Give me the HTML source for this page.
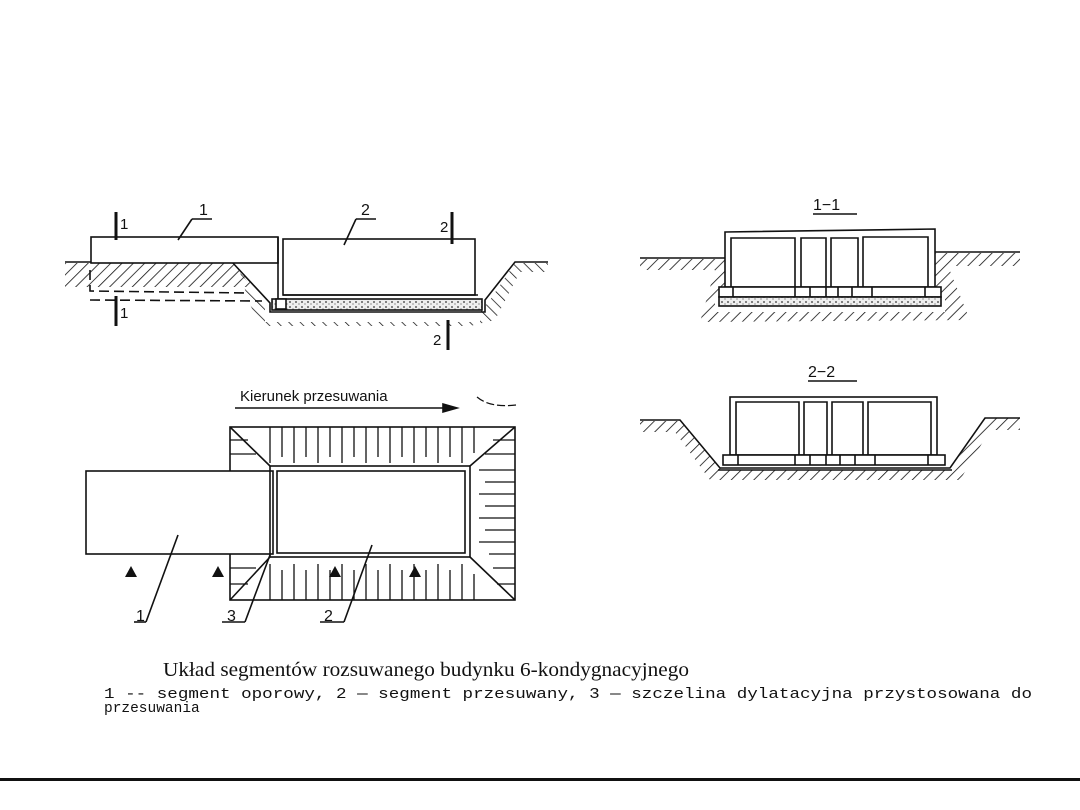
<!DOCTYPE html>
<html><head><meta charset="utf-8"><style>
html,body{margin:0;padding:0;background:#fff;}
svg{display:block}
text{font-family:"Liberation Sans",sans-serif;fill:#111}
.s{font-family:"Liberation Serif",serif}
.m{font-family:"Liberation Mono",monospace}
</style></head><body>
<svg width="1080" height="810" viewBox="0 0 1080 810" xmlns="http://www.w3.org/2000/svg">
<defs>
<pattern id="h" width="8" height="8" patternUnits="userSpaceOnUse" patternTransform="rotate(45)">
<line x1="0" y1="0" x2="0" y2="8" stroke="#111" stroke-width="1.6"/>
</pattern>
<pattern id="h2" width="8" height="8" patternUnits="userSpaceOnUse" patternTransform="rotate(-45)">
<line x1="0" y1="0" x2="0" y2="8" stroke="#111" stroke-width="1.5"/>
</pattern>
<pattern id="g" width="6" height="5" patternUnits="userSpaceOnUse">
<rect width="6" height="5" fill="#eee"/><circle cx="2" cy="2" r="0.9" fill="#333"/><circle cx="5" cy="4" r="0.6" fill="#555"/>
</pattern>
</defs>
<g fill="none" stroke="#111" stroke-width="1.6">
<polygon points="65,263 232,263 254,287 65,287" fill="url(#h)" stroke="none"/>
<polygon points="240,272 265,305 265,322 480,322 480,312 490,300 515,263 548,263 548,272 520,272 495,320 470,326 260,326 248,300" fill="url(#h2)" stroke="none"/>
<polyline points="65,262 232,262 270,303 270,312 485,312 485,300 515,262 548,262"/>
<rect x="91" y="237" width="187" height="26" fill="#fff"/>
<line x1="278" y1="237" x2="278" y2="302"/>
<rect x="283" y="239" width="192" height="56" fill="#fff"/>
<rect x="272" y="299" width="210" height="11" fill="url(#g)"/>
<rect x="276" y="299" width="10" height="10" fill="#fff"/>
<line x1="283" y1="295" x2="478" y2="295"/>
<path d="M90,270 L90,291 L248,293 M90,300 L262,301" stroke-dasharray="10,5"/>
<g stroke-width="3"><line x1="116" y1="212" x2="116" y2="240"/><line x1="116" y1="296" x2="116" y2="326"/><line x1="452" y1="212" x2="452" y2="244"/><line x1="448" y1="320" x2="448" y2="350"/></g>
<line x1="192" y1="219" x2="212" y2="219"/><line x1="192" y1="219" x2="178" y2="240"/>
<line x1="356" y1="219" x2="376" y2="219"/><line x1="356" y1="219" x2="344" y2="245"/>
<line x1="235" y1="408" x2="445" y2="408"/><polygon points="443,404 457,408 443,412" fill="#111"/>
<path d="M477,397 Q490,408 516,405" stroke-dasharray="8,3" stroke-width="1.2"/>
<rect x="230" y="427" width="285" height="173"/>
<rect x="86" y="471" width="187" height="83" fill="#fff"/>
<rect x="270" y="466" width="200" height="91"/>
<rect x="277" y="471" width="188" height="82" fill="#fff"/>
<line x1="230" y1="427" x2="270" y2="466"/><line x1="515" y1="427" x2="470" y2="466"/>
<line x1="230" y1="600" x2="270" y2="557"/><line x1="515" y1="600" x2="470" y2="557"/>
<g stroke-width="1.3">
<path d="M270,427v36 M282,427v30 M294,427v36 M306,427v30 M318,427v36 M330,427v30 M342,427v36 M354,427v30 M366,427v36 M378,427v30 M390,427v36 M402,427v30 M414,427v36 M426,427v30 M438,427v36 M450,427v30 M462,427v36 M474,427v26"/>
<path d="M270,600v-36 M282,600v-30 M294,600v-36 M306,600v-30 M318,600v-36 M330,600v-30 M342,600v-36 M354,600v-30 M366,600v-36 M378,600v-30 M390,600v-36 M402,600v-30 M414,600v-36 M426,600v-30 M438,600v-36 M450,600v-30 M462,600v-36 M474,600v-26"/>
<path d="M515,470h-36 M515,482h-30 M515,494h-36 M515,506h-30 M515,518h-36 M515,530h-30 M515,542h-36 M515,554h-26 M515,440h-22 M515,454h-30 M515,568h-22 M515,584h-18"/>
<path d="M230,440h18 M230,454h26 M230,568h26 M230,584h18"/>
</g>
<g fill="#111" stroke="none"><polygon points="125,577 131,566 137,577"/><polygon points="212,577 218,566 224,577"/><polygon points="329,577 335,566 341,577"/><polygon points="409,577 415,566 421,577"/></g>
<line x1="134" y1="622" x2="146" y2="622"/><line x1="146" y1="622" x2="178" y2="535"/>
<line x1="222" y1="622" x2="245" y2="622"/><line x1="245" y1="622" x2="270" y2="555"/>
<line x1="320" y1="622" x2="344" y2="622"/><line x1="344" y1="622" x2="372" y2="545"/>
<line x1="813" y1="214" x2="857" y2="214"/>
<polygon points="640,259 725,259 725,300 715,300 715,312 945,312 945,295 935,295 935,253 1020,253 1020,266 948,266 970,320 700,322 715,270 640,270" fill="url(#h)" stroke="none"/>
<polyline points="640,258 725,258"/><polyline points="935,252 1020,252"/>
<polygon points="725,232 935,229 935,287 725,287" fill="#fff"/>
<path d="M731,287V238H795V287 M801,287V238H826V287 M831,287V238H858V287 M863,287V237H928V287"/>
<rect x="719" y="287" width="222" height="10" fill="#fff"/>
<path d="M733,287v10 M795,287v10 M810,287v10 M826,287v10 M838,287v10 M852,287v10 M872,287v10 M925,287v10"/>
<rect x="719" y="297" width="222" height="9" fill="url(#g)"/>
<line x1="808" y1="381" x2="857" y2="381"/>
<polygon points="640,421 680,421 722,470 950,470 985,418 1020,418 1020,430 990,430 960,480 710,480 675,432 640,432" fill="url(#h)" stroke="none"/>
<polyline points="640,420 680,420 720,468 950,468 985,418 1020,418"/>
<rect x="730" y="397" width="207" height="58" fill="#fff"/>
<path d="M736,455V402H799V455 M804,455V402H827V455 M832,455V402H863V455 M868,455V402H931V455"/>
<rect x="723" y="455" width="222" height="10" fill="#fff"/>
<path d="M738,455v10 M795,455v10 M810,455v10 M826,455v10 M840,455v10 M855,455v10 M875,455v10 M928,455v10"/>
<line x1="718" y1="470" x2="952" y2="470"/>
</g>
<text x="120" y="229" font-size="15">1</text>
<text x="120" y="318" font-size="15">1</text>
<text x="199" y="215" font-size="16">1</text>
<text x="361" y="215" font-size="16">2</text>
<text x="440" y="232" font-size="15">2</text>
<text x="433" y="345" font-size="15">2</text>
<text x="240" y="401" font-size="15">Kierunek przesuwania</text>
<text x="136" y="621" font-size="16">1</text>
<text x="227" y="621" font-size="16">3</text>
<text x="324" y="621" font-size="16">2</text>
<text x="813" y="210" font-size="16">1−1</text>
<text x="808" y="377" font-size="16">2−2</text>
<text class="s" x="163" y="676" font-size="19.5" textLength="526" lengthAdjust="spacingAndGlyphs">Układ segmentów rozsuwanego budynku 6-kondygnacyjnego</text>
<text class="m" x="104" y="698" font-size="14.5" textLength="928" lengthAdjust="spacingAndGlyphs">1 -- segment oporowy, 2 — segment przesuwany, 3 — szczelina dylatacyjna przystosowana do</text>
<text class="m" x="104" y="712" font-size="14.5">przesuwania</text>
<rect x="0" y="778" width="1080" height="3" fill="#111"/>
</svg>
</body></html>
